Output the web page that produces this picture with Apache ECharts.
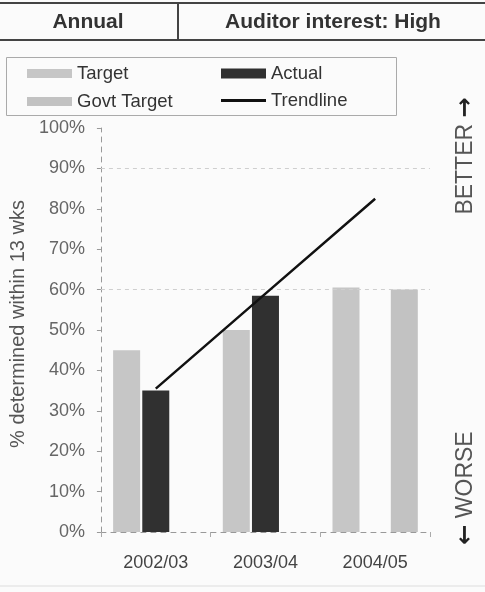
<!DOCTYPE html>
<html>
<head>
<meta charset="utf-8">
<style>
  html, body { margin: 0; padding: 0; background: #fbfbfb; }
  #chart { width: 485px; height: 592px; }
</style>
<script src="https://cdn.jsdelivr.net/npm/echarts@6/dist/echarts.min.js"></script>
</head>
<body>
<div id="chart"></div>
<script>
// Performance figures: share determined within 13 weeks
const years = ['2002/03', '2003/04', '2004/05'];
const target = [45, 50, 60.5];
const actual = [35, 58.5, null];
const govtTarget = [null, null, 60];
const trendline = [35.5, 59, 82.5];
const gridLevels = [60, 90];

const headerLeft = 'Annual';
const headerRight = 'Auditor interest: High';
const yAxisTitle = '% determined within 13 wks';

const FONT = '"Liberation Sans", Arial, sans-serif';

const chart = echarts.init(document.getElementById('chart'), null, { renderer: 'canvas' });

const legendText = { fontFamily: FONT, fontSize: 18.5, color: '#333', lineHeight: 18 };

function legendBox(names, left, top, h, icon) {
  return {
    orient: 'vertical', left: left, top: top, itemWidth: 45, itemHeight: h, itemGap: 9,
    icon: icon, data: names, textStyle: legendText, padding: 0, itemStyle: { borderWidth: 0 }
  };
}

chart.setOption({
  backgroundColor: '#fbfbfb',
  animation: false,
  grid: { left: 100, right: 55, top: 128, bottom: 60 },
  legend: [
    legendBox(['Target', 'Govt Target'], 27, 64, 9, 'rect'),
    legendBox(['Actual'], 221, 64, 10, 'rect'),
    legendBox(['Trendline'], 221, 91, 3, 'rect')
  ],
  xAxis: {
    type: 'category',
    data: years,
    axisLine: { lineStyle: { color: '#999', type: [5, 5], width: 1 } },
    axisTick: { show: true, length: 5, lineStyle: { color: '#aaa' } },
    axisLabel: { fontFamily: FONT, fontSize: 18, color: '#444', margin: 22 }
  },
  yAxis: {
    type: 'value',
    min: 0, max: 100, interval: 10,
    name: yAxisTitle,
    nameLocation: 'middle',
    nameRotate: 90,
    nameGap: 66,
    nameTextStyle: { fontFamily: FONT, fontSize: 20, color: '#555', padding: [0, 0, 0, 12] },
    axisLine: { show: true, lineStyle: { color: '#999', type: [5, 5], width: 1 } },
    axisTick: { show: true, length: 4, lineStyle: { color: '#999' } },
    axisLabel: { fontFamily: FONT, fontSize: 18, color: '#666', margin: 16, formatter: '{value}%' },
    splitLine: { show: false }
  },
  series: [
    {
      name: 'Target', type: 'bar', data: target,
      barWidth: 27, barGap: '8%',
      itemStyle: { color: '#c6c6c6' },
      markLine: {
        silent: true, symbol: 'none', label: { show: false },
        lineStyle: { color: '#cfcfcf', type: [4, 4], width: 1 },
        data: gridLevels.map(v => ({ yAxis: v }))
      }
    },
    {
      name: 'Actual', type: 'bar', data: actual,
      barWidth: 27, barGap: '8%',
      itemStyle: { color: '#303030' }
    },
    {
      name: 'Govt Target', type: 'bar', data: govtTarget,
      barWidth: 27, barGap: '8%',
      itemStyle: { color: '#c2c2c2' }
    },
    {
      name: 'Trendline', type: 'line', data: trendline,
      symbol: 'none', z: 5,
      lineStyle: { color: '#111', width: 2.5 },
      itemStyle: { color: '#111' }
    }
  ],
  graphic: [
    // header band
    { type: 'line', shape: { x1: 0, y1: 3, x2: 485, y2: 3 }, style: { stroke: '#444', lineWidth: 2 } },
    { type: 'line', shape: { x1: 0, y1: 40, x2: 485, y2: 40 }, style: { stroke: '#444', lineWidth: 2 } },
    { type: 'line', shape: { x1: 178, y1: 3, x2: 178, y2: 40 }, style: { stroke: '#444', lineWidth: 2 } },
    { type: 'text', x: 88, y: 22, style: { text: headerLeft, font: 'bold 21px ' + FONT, fill: '#333', align: 'center', verticalAlign: 'middle' } },
    { type: 'text', x: 333, y: 22, style: { text: headerRight, font: 'bold 21px ' + FONT, fill: '#333', align: 'center', verticalAlign: 'middle' } },
    // legend frame
    { type: 'rect', shape: { x: 6.5, y: 57.5, width: 390, height: 58 }, style: { fill: 'none', stroke: '#aaa', lineWidth: 1 }, z: -1 },
    // direction hints
    {
      type: 'text', x: 466, y: 156, rotation: Math.PI / 2,
      style: {
        text: 'BETTER {a|→}', font: '23px ' + FONT, fill: '#555', align: 'center', verticalAlign: 'middle',
        rich: { a: { fontFamily: '"DejaVu Sans", sans-serif', fontSize: 24, fontWeight: 'bold', fill: '#222' } }
      }
    },
    {
      type: 'text', x: 466, y: 488, rotation: Math.PI / 2,
      style: {
        text: '{a|←} WORSE', font: '23px ' + FONT, fill: '#555', align: 'center', verticalAlign: 'middle',
        rich: { a: { fontFamily: '"DejaVu Sans", sans-serif', fontSize: 24, fontWeight: 'bold', fill: '#222' } }
      }
    },
    { type: 'line', shape: { x1: 0, y1: 586, x2: 485, y2: 586 }, style: { stroke: '#ddd', lineWidth: 1 } }
  ]
});
</script>
</body>
</html>
